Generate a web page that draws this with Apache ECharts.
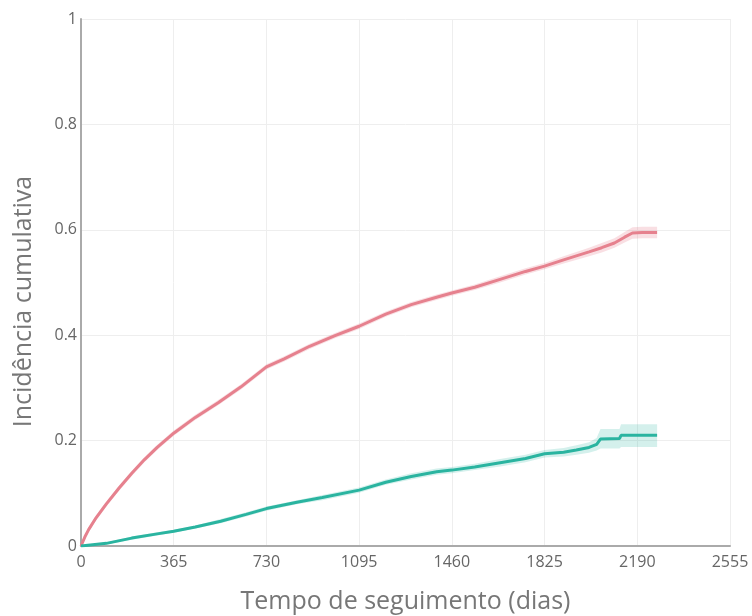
<!DOCTYPE html>
<html><head><meta charset="utf-8">
<script src="https://cdn.jsdelivr.net/npm/echarts@6/dist/echarts.min.js"></script>
<style>html,body{margin:0;padding:0;background:#fff}#c{width:752px;height:616px}</style>
</head><body><div id="c"></div>
<script>
const xTicks = [0, 365, 730, 1095, 1460, 1825, 2190, 2555];
const yTicks = [0, 0.2, 0.4, 0.6, 0.8, 1];

const redDays = [0, 15, 30, 60, 100, 150, 200, 250, 300, 365, 450, 540, 630, 730, 800, 900, 1000, 1095, 1200, 1300, 1400, 1460, 1550, 1650, 1750, 1825, 1900, 2000, 2050, 2100, 2140, 2171, 2210, 2268];
const redInc  = [0, 0.017, 0.031, 0.054, 0.080, 0.110, 0.138, 0.164, 0.187, 0.214, 0.244, 0.272, 0.302, 0.340, 0.355, 0.379, 0.399, 0.417, 0.440, 0.458, 0.472, 0.480, 0.491, 0.506, 0.521, 0.531, 0.543, 0.558, 0.566, 0.575, 0.586, 0.594, 0.595, 0.595];
const redLow  = [0, 0.014, 0.027, 0.049, 0.075, 0.105, 0.133, 0.159, 0.182, 0.209, 0.239, 0.267, 0.297, 0.335, 0.350, 0.374, 0.394, 0.412, 0.435, 0.453, 0.467, 0.475, 0.486, 0.500, 0.515, 0.525, 0.536, 0.550, 0.557, 0.566, 0.576, 0.583, 0.584, 0.584];
const redHigh = [0, 0.020, 0.035, 0.059, 0.085, 0.115, 0.143, 0.169, 0.192, 0.219, 0.249, 0.277, 0.307, 0.345, 0.360, 0.384, 0.404, 0.422, 0.445, 0.463, 0.477, 0.485, 0.496, 0.512, 0.527, 0.537, 0.550, 0.566, 0.575, 0.584, 0.596, 0.605, 0.606, 0.606];

const tealDays = [0, 100, 200, 300, 365, 450, 550, 650, 730, 850, 950, 1095, 1200, 1300, 1400, 1460, 1550, 1650, 1750, 1825, 1900, 1950, 2000, 2030, 2045, 2120, 2126, 2268];
const tealInc  = [0, 0.005, 0.015, 0.023, 0.028, 0.036, 0.047, 0.060, 0.071, 0.083, 0.092, 0.106, 0.121, 0.132, 0.141, 0.144, 0.150, 0.158, 0.166, 0.175, 0.178, 0.182, 0.187, 0.193, 0.203, 0.204, 0.210, 0.210];
const tealLow  = [0, 0.003, 0.012, 0.020, 0.025, 0.033, 0.043, 0.056, 0.067, 0.079, 0.087, 0.101, 0.116, 0.126, 0.135, 0.138, 0.144, 0.151, 0.159, 0.168, 0.170, 0.173, 0.177, 0.181, 0.185, 0.185, 0.188, 0.188];
const tealHigh = [0, 0.007, 0.018, 0.026, 0.031, 0.039, 0.051, 0.064, 0.075, 0.087, 0.097, 0.111, 0.126, 0.138, 0.147, 0.150, 0.156, 0.165, 0.173, 0.182, 0.186, 0.191, 0.197, 0.205, 0.222, 0.222, 0.231, 0.231];

const redColor = '#e6818e', tealColor = '#2ab4a0';
const pairs = (xs, ys) => xs.map((x, i) => [x, ys[i]]);
const bandData = (xs, lo, hi) => xs.map((x, i) => [x, lo[i], hi[i]]);

function bandSeries(xs, lo, hi, color, opacity) {
  return {
    type: 'custom', silent: true, z: 1,
    data: bandData(xs, lo, hi),
    encode: { x: 0, y: [1, 2] },
    renderItem: function (params, api) {
      if (params.dataIndex !== 0) return null;
      const top = [], bot = [];
      for (let i = 0; i < xs.length; i++) {
        top.push(api.coord([xs[i], hi[i]]));
        bot.push(api.coord([xs[i], lo[i]]));
      }
      return { type: 'polygon', shape: { points: top.concat(bot.reverse()) },
        style: { fill: color, opacity: opacity } };
    }
  };
}

const chart = echarts.init(document.getElementById('c'));
const fontFam = '"Open Sans", "Noto Sans", sans-serif';
chart.setOption({
  animation: false,
  grid: { left: 81, right: 22, top: 19, bottom: 70, containLabel: false, outerBoundsMode: 'none' },
  xAxis: {
    type: 'value', min: 0, max: 2555, interval: 365,
    name: 'Tempo de seguimento (dias)', nameLocation: 'middle', nameGap: 43,
    nameTextStyle: { fontSize: 25, color: '#777', fontFamily: fontFam },
    axisLine: { show: true, onZero: false, lineStyle: { color: '#aaa', width: 2 } },
    axisTick: { show: false },
    axisLabel: { color: '#666', fontSize: 16, margin: 8, fontFamily: fontFam, formatter: v => String(v) },
    splitLine: { show: true, lineStyle: { color: '#eee', width: 1 } }
  },
  yAxis: {
    type: 'value', min: 0, max: 1, interval: 0.2,
    name: 'Incidência cumulativa', nameLocation: 'middle', nameGap: 45,
    nameTextStyle: { fontSize: 25, color: '#777', fontFamily: fontFam, padding: [0, 0, 0, -38] },
    axisLine: { show: true, lineStyle: { color: '#aaa', width: 2 } },
    axisTick: { show: false },
    axisLabel: { color: '#666', fontSize: 16, margin: 4, fontFamily: fontFam,
      formatter: v => (Math.round(v * 10) / 10).toString() },
    splitLine: { show: true, lineStyle: { color: '#eee', width: 1 } }
  },
  series: [
    bandSeries(redDays, redLow, redHigh, redColor, 0.25),
    bandSeries(tealDays, tealLow, tealHigh, tealColor, 0.2),
    { type: 'line', z: 3, data: pairs(redDays, redInc), symbol: 'none', lineStyle: { color: redColor, width: 3 } },
    { type: 'line', z: 3, data: pairs(tealDays, tealInc), symbol: 'none', lineStyle: { color: tealColor, width: 3 } }
  ]
});
</script></body></html>
